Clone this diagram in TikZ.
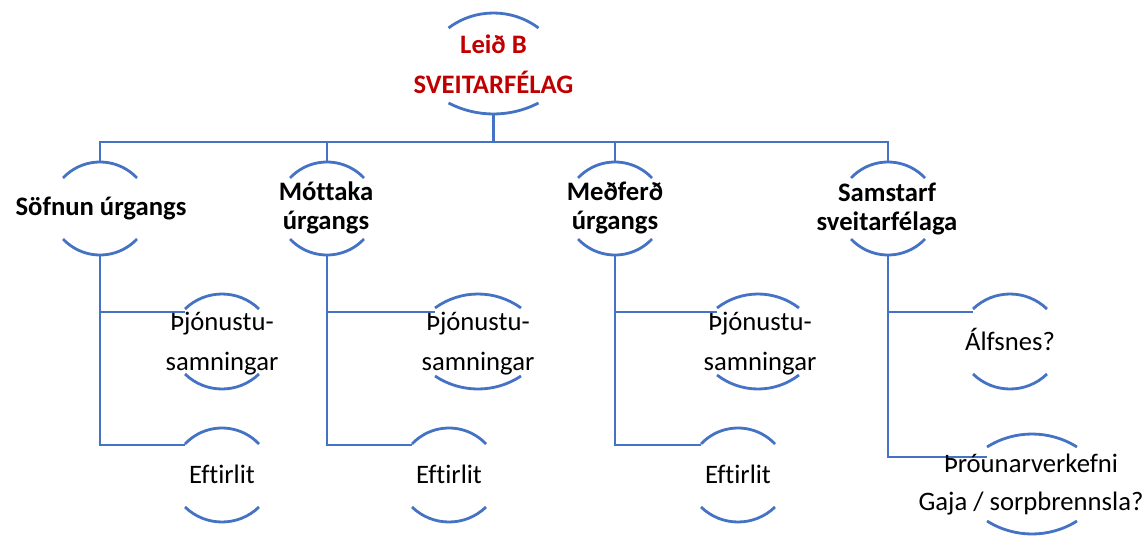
\documentclass[tikz,border=0pt]{standalone}
\usepackage{fontspec}
\setmainfont[Ligatures=NoCommon]{Carlito}
\usetikzlibrary{calc}
\definecolor{lineblue}{HTML}{4472C4}
\definecolor{darkred}{HTML}{C00000}
\newcommand\twoline[1]{\begin{tabular}[t]{@{}c@{}}#1\end{tabular}}
\newcommand\drawarcs[4]{%
  \pgfmathsetmacro\myrT{(#2*#2+#3*#3)/(2*#3)}%
  \pgfmathsetmacro\myaT{asin(#2/\myrT)}%
  \pgfmathsetmacro\myrB{(#2*#2+#4*#4)/(2*#4)}%
  \pgfmathsetmacro\myaB{asin(#2/\myrB)}%
  \draw[conn] ($(#1.north west)+(0,-#3)$) arc[start angle=90+\myaT, end angle=90-\myaT, radius=\myrT];
  \draw[conn] ($(#1.south west)+(0,#4)$) arc[start angle=270-\myaB, end angle=270+\myaB, radius=\myrB];
}
\begin{document}
\begin{tikzpicture}[x=1pt,y=1pt,
  conn/.style={draw=lineblue, line width=2.8pt},
  shapebox/.style={inner sep=0pt, outer sep=0pt, draw=none},
  lblbase/.style={anchor=base, inner sep=0pt, outer sep=0pt},
  lblA/.style={lblbase, font=\fontsize{26.67}{40}\selectfont},
  lblB/.style={lblbase, font=\fontsize{26.67}{29.5}\selectfont\bfseries},
  lblC/.style={lblbase, font=\fontsize{26.67}{38}\selectfont}]
\useasboundingbox (0,0) rectangle (1148,-543);
% shape nodes: centre at (cx, -(peak+bottom)/2)
\node[shapebox, minimum width=90pt, minimum height=101pt] (top) at (493.5,-63.5) {};
\node[shapebox, minimum width=74pt, minimum height=93pt] (s1) at (100,-208.5) {};
\node[shapebox, minimum width=74pt, minimum height=93pt] (s2) at (327,-208.5) {};
\node[shapebox, minimum width=74pt, minimum height=93pt] (s3) at (615,-208.5) {};
\node[shapebox, minimum width=74pt, minimum height=93pt] (s4) at (888,-208.5) {};
\node[shapebox, minimum width=74pt, minimum height=95pt] (p1) at (222,-341.5) {};
\node[shapebox, minimum width=86pt, minimum height=95pt] (p2) at (478,-341.5) {};
\node[shapebox, minimum width=82pt, minimum height=95pt] (p3) at (758,-341.5) {};
\node[shapebox, minimum width=74pt, minimum height=94pt] (e1) at (222,-475) {};
\node[shapebox, minimum width=74pt, minimum height=94pt] (e2) at (449,-475) {};
\node[shapebox, minimum width=74pt, minimum height=94pt] (e3) at (738,-475) {};
\node[shapebox, minimum width=74pt, minimum height=95pt] (a4) at (1010,-341.5) {};
\node[shapebox, minimum width=90pt, minimum height=100pt] (t4) at (1032,-484) {};
% arcs
\drawarcs{top}{45}{15}{11}
\drawarcs{s1}{37}{16}{16}
\drawarcs{s2}{37}{16}{16}
\drawarcs{s3}{37}{16}{16}
\drawarcs{s4}{37}{16}{16}
\drawarcs{p1}{37}{15}{15}
\drawarcs{p2}{43}{14}{13}
\drawarcs{p3}{41}{14}{14}
\drawarcs{e1}{37}{16}{15}
\drawarcs{e2}{37}{16}{15}
\drawarcs{e3}{37}{16}{15}
\drawarcs{a4}{37}{15}{15}
\drawarcs{t4}{45}{13}{13}
% connectors
\coordinate (bus) at (493.5,-142);
\draw[conn] (top.south) -- (bus);
\draw[conn] (s1.north) |- (bus) -| (s4.north);
\draw[conn] (s2.north) -- (s2.north |- bus);
\draw[conn] (s3.north) -- (s3.north |- bus);
\draw[conn] (s1.south) |- ($(p1.north west)+(0,-18)$);
\draw[conn] (s1.south) |- ($(e1.north west)+(0,-17)$);
\draw[conn] (s2.south) |- ($(p2.north west)+(0,-18)$);
\draw[conn] (s2.south) |- ($(e2.north west)+(0,-17)$);
\draw[conn] (s3.south) |- ($(p3.north west)+(0,-18)$);
\draw[conn] (s3.south) |- ($(e3.north west)+(0,-17)$);
\draw[conn] (s4.south) |- ($(a4.north west)+(0,-18)$);
\draw[conn] (s4.south) |- ($(t4.north west)+(0,-23)$);
% labels
\node[lblA, font=\fontsize{26.67}{40}\selectfont\bfseries, text=darkred] (topT) at (493.5,-53) {\twoline{Leið B\\SVEITARFÉLAG}};
\node[lblB] (s1T) at (101,-215) {Söfnun úrgangs};
\node[lblB] (s2T) at (326,-200) {\twoline{Móttaka\\úrgangs}};
\node[lblB] (s3T) at (615,-200) {\twoline{Meðferð\\úrgangs}};
\node[lblB] (s4T) at (887,-201) {\twoline{Samstarf\\sveitarfélaga}};
\node[lblA] (p1T) at (222,-330) {\twoline{Þjónustu-\\samningar}};
\node[lblA] (p2T) at (478,-330) {\twoline{Þjónustu-\\samningar}};
\node[lblA] (p3T) at (760,-330) {\twoline{Þjónustu-\\samningar}};
\node[lblA] (e1T) at (222,-483) {Eftirlit};
\node[lblA] (e2T) at (449,-483) {Eftirlit};
\node[lblA] (e3T) at (738,-483) {Eftirlit};
\node[lblA] (a4T) at (1010,-350) {Álfsnes?};
\node[lblC] (t4T) at (1031,-472) {\twoline{Þróunarverkefni\\Gaja / sorpbrennsla?}};
\end{tikzpicture}
\end{document}
